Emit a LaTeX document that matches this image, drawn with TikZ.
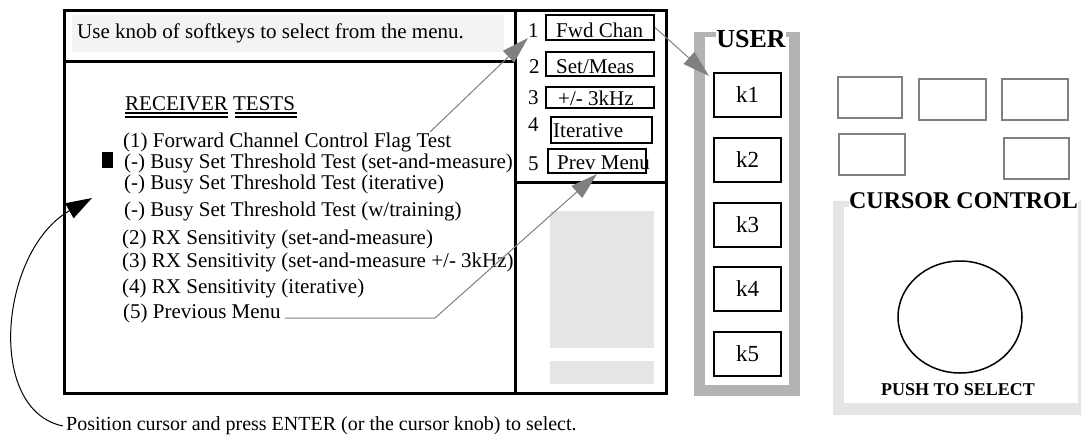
\documentclass[tikz,border=0pt]{standalone}
\usepackage{fontspec}
\setmainfont{Liberation Serif}
\usetikzlibrary{arrows.meta,calc}
\definecolor{arrgray}{RGB}{128,128,128}
\definecolor{frgray}{RGB}{179,179,179}
\definecolor{lgray}{RGB}{229,229,229}
\definecolor{hgray}{RGB}{243,243,243}
\begin{document}
\begin{tikzpicture}[x=1pt,y=-1pt,
  lbl/.style={inner sep=0pt, font=\fontsize{21}{24}\selectfont, anchor=base west},
  bold/.style={inner sep=0pt, fill=white, anchor=base, font=\bfseries\fontsize{#1}{#1}\selectfont},
  skbox/.style={draw, line width=2pt, inner sep=0pt},
  kbox/.style={draw, line width=2pt, inner sep=0pt, minimum width=67pt, minimum height=44pt, font=\fontsize{23}{26}\selectfont},
  btn/.style={draw=arrgray, line width=1.3pt, inner sep=0pt, minimum height=41pt},
  garrow/.style={draw=arrgray, line width=1pt, -{Triangle[length=27pt,width=16pt,fill=arrgray]}},
  barrow/.style={draw=black, line width=1pt, -{Triangle[length=26pt,width=17pt]}}]
\useasboundingbox (0,0) rectangle (1081,437);

% ---------- screen ----------
\fill[hgray] (72,15) rectangle (504,52);
\draw[line width=3pt] (64,10) rectangle (666,393);
\draw[line width=3pt] (64,61) -- (515,61);
\draw[line width=3pt] (515,10) -- (515,393);
\draw[line width=3pt] (515,182) -- (666,182);
\fill[lgray] (550,211) rectangle (654,348);
\fill[lgray] (550,361) rectangle (654,384);

\node[lbl] (hdr) at (77,38) {Use knob of softkeys to select from the menu.};

\node[lbl] (rt) at (125,110) {RECEIVER TESTS};
\draw[line width=1.3pt] (125,113) -- (228,113) (125,117) -- (228,117);
\draw[line width=1.3pt] (235,113) -- (297,113) (235,117) -- (297,117);

\node[lbl] (i1) at (123,147) {(1) Forward Channel Control Flag Test};
\node[lbl] (i2) at (124,168) {(-) Busy Set Threshold Test (set-and-measure)};
\node[lbl] (i3) at (124,189) {(-) Busy Set Threshold Test (iterative)};
\node[lbl] (i4) at (124,216) {(-) Busy Set Threshold Test (w/training)};
\node[lbl] (i5) at (122,244) {(2) RX Sensitivity (set-and-measure)};
\node[lbl] (i6) at (122,267) {(3) RX Sensitivity (set-and-measure +/- 3kHz)};
\node[lbl] (i7) at (122,293) {(4) RX Sensitivity (iterative)};
\node[lbl] (i8) at (123,318) {(5) Previous Menu};
\fill (102,152) rectangle (113,168);

% softkey labels
\node[skbox, minimum width=108pt, minimum height=25pt] (sk1) at (600,27.5) {};
\node[skbox, minimum width=108pt, minimum height=24pt] (sk2) at (600,64) {};
\node[skbox, minimum width=108pt, minimum height=21pt] (sk3) at (600,97.5) {};
\node[skbox, minimum width=101pt, minimum height=26pt] (sk4) at (601.5,130) {};
\node[skbox, minimum width=98pt, minimum height=24pt] (sk5) at (597,161) {};
\node[lbl] (t1) at (556,37) {Fwd Chan};
\node[lbl] (t2) at (556,73) {Set/Meas};
\node[lbl] (t3) at (558,105) {+/- 3kHz};
\node[lbl] (t4) at (553,137) {Iterative};
\node[lbl] (t5) at (557,169) {Prev Menu};
\node[lbl] (d1) at (528,37) {1};
\node[lbl] (d2) at (529,73) {2};
\node[lbl] (d3) at (528,104) {3};
\node[lbl] (d4) at (528,131) {4};
\node[lbl] (d5) at (528,170) {5};

% ---------- USER panel ----------
\fill[frgray] (694,32) rectangle (800,396);
\fill[white] (705,37) rectangle (789,385);
\node[bold=26] (user) at (751,47) {USER};
\node[kbox] (k1) at (747.5,95) {k1};
\node[kbox] (k2) at (747.5,160) {k2};
\node[kbox] (k3) at (747.5,224.5) {k3};
\node[kbox] (k4) at (747.5,288.5) {k4};
\node[kbox] (k5) at (747.5,353.5) {k5};

% ---------- buttons ----------
\node[btn, minimum width=64pt] (b1) at (870,97.5) {};
\node[btn, minimum width=67pt] (b2) at (952.5,99.5) {};
\node[btn, minimum width=66pt] (b3) at (1035,99.5) {};
\node[btn, minimum width=66pt] (b4) at (872,154.5) {};
\node[btn, minimum width=65pt] (b5) at (1036.5,158.5) {};

% ---------- cursor control ----------
\fill[lgray] (833,201) rectangle (1081,415);
\fill[white] (844,207) rectangle (1078,403);
\node[bold=24] (cc) at (963.5,208) {CURSOR CONTROL};
\draw[line width=1.5pt] (960,317) ellipse [x radius=62, y radius=56];
\node[bold=18] (push) at (958,395) {PUSH TO SELECT};

% ---------- bottom note ----------
\node[lbl, font=\fontsize{20}{23}\selectfont] (pos) at (66,430) {Position cursor and press ENTER (or the cursor knob) to select.};

% ---------- connectors ----------
\coordinate (a1s) at (430,132);
\draw[garrow] (a1s) -- ($(d1.base west)+(0,1)$);
\draw[garrow] ($(i8.base east)+(4,0)$) -- (435,318) -- (sk5.south);
\draw[garrow] (sk1.east) -- ($(k1.north west)+(-4,4)$);
\coordinate (ctip) at (92,198);
\draw[barrow] ($(pos.base west)+(-3,-4)$) .. controls (-15,410) and (0,250) .. (ctip);
\end{tikzpicture}
\end{document}
